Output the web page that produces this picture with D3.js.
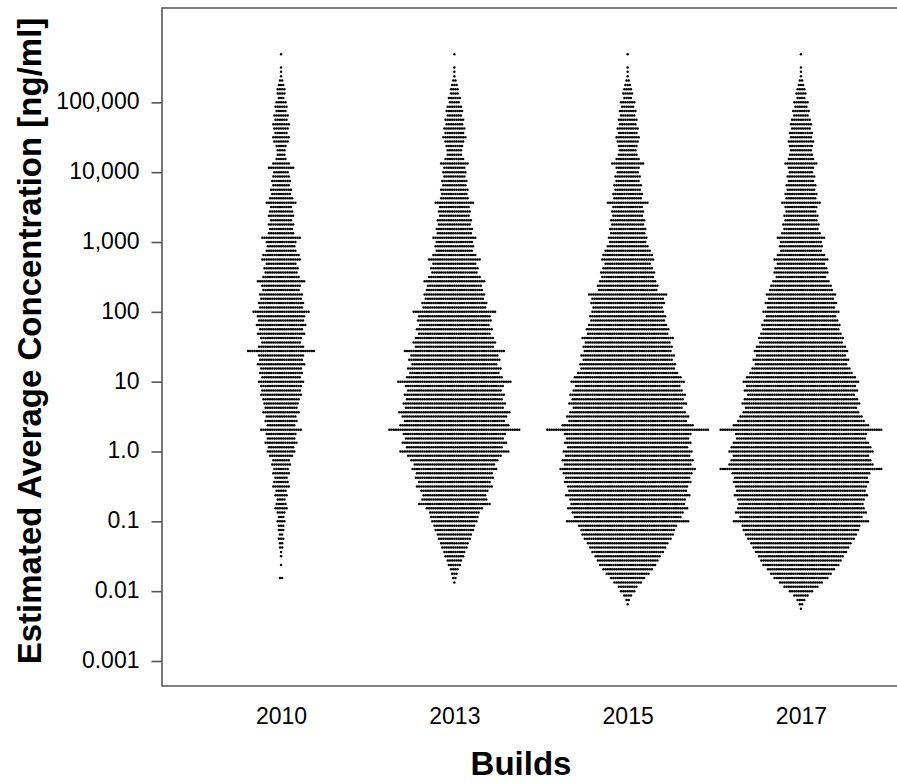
<!DOCTYPE html>
<html>
<head>
<meta charset="utf-8">
<script src="https://cdn.jsdelivr.net/npm/d3@7"></script>
<style>
  body { margin: 0; background: #fff; }
  text { font-family: "Liberation Sans", Arial, Helvetica, sans-serif; fill: #000; }
  .axis-title { font-weight: bold; font-size: 33px; }
  .tick-label { font-size: 23px; }
</style>
</head>
<body>
<div class="chart"></div>
<script>
var svgWidth = 897;
var svgHeight = 783;

// builds on the x axis
var builds = ["2010", "2013", "2015", "2017"];

// y tick values and their printed labels
var yTicks = [1e5, 1e4, 1e3, 100, 10, 1, 0.1, 0.01, 0.001];
var yTickLabels = ["100,000", "10,000", "1,000", "100", "10", "1.0", "0.1", "0.01", "0.001"];

// swarm rows: each row is a log10 bin (top bin log10 = 5.75, 16 bins per decade),
// and the number is how many dots sit in that row
var binTop = 5.75;
var binsPerDecade = 16;

var counts2010 = [0,1,0,0,1,1,1,2,3,4, 4,3,5,6,5,7,6,8,7,6,
  8,7,5,4,4,5,8,12,7,8, 9,8,10,9,11,14,10,11,12,10,
  12,11,12,18,14,13,14,17,18,14, 16,15,17,22,18,17,20,19,21,20,
  26,22,21,23,20,22,19,18,21,31, 21,20,22,19,20,18,21,19,18,19,
  17,16,15,17,14,15,13,19,14,13, 15,12,13,11,8,9,7,8,6,7,
  8,5,6,4,5,6,4,3,4,3, 3,2,3,2,2,1,1,0,1,0, 0,2];

var counts2013 = [0,1,0,0,1,1,1,2,3,4, 4,6,5,7,8,7,9,8,10,9,
  11,9,8,7,7,9,13,10,11,10, 12,11,13,12,13,18,14,15,14,16,
  15,17,16,20,17,18,17,20,24,20, 22,21,24,28,25,26,28,27,30,29,
  38,33,34,32,35,33,36,38,36,46, 40,42,39,43,41,44,52,45,43,46,
  44,47,45,51,48,46,50,60,47,45, 48,44,50,43,40,37,39,35,36,33,
  35,31,29,30,33,26,23,22,21,19, 18,16,15,13,12,10,9,7,6,4,
  3,2,1];

var counts2015 = [0,1,0,0,1,1,1,2,3,4, 5,4,7,6,8,7,9,8,10,9,
  11,10,9,8,9,11,15,11,10,12, 11,13,12,14,13,19,14,15,14,16,
  15,17,16,18,17,19,21,23,24,21, 23,25,24,26,28,27,36,33,34,32,
  33,35,34,36,38,37,42,39,41,40, 43,41,44,43,46,49,52,48,50,53,
  51,54,50,53,56,54,60,74,58,56, 58,55,59,57,60,58,62,59,57,58,
  55,54,57,53,52,55,51,49,56,45, 43,42,40,37,35,33,30,28,26,23,
  20,16,13,9,7,4,2,1];

var counts2017 = [0,1,0,0,1,1,1,2,3,4, 5,4,7,6,8,7,9,10,9,11,
  10,12,11,10,11,12,15,12,11,13, 12,14,13,15,14,18,15,14,16,15,
  17,16,18,22,19,20,19,22,25,22, 24,25,23,26,28,29,32,30,33,31,
  35,32,34,36,35,37,39,38,41,43, 41,44,42,45,47,50,53,50,52,49,
  52,54,51,53,56,58,62,74,60,59, 62,64,66,62,64,66,74,63,61,62,
  60,59,61,58,57,58,60,56,62,54, 53,51,49,46,44,42,39,37,35,31,
  28,25,20,16,11,7,4,2,1];

var swarmCounts = [counts2010, counts2013, counts2015, counts2017];

var margin = { top: 8, left: 162, bottom: 97 };
var plotRight = 920; // frame runs past the picture's right edge
var plotBottom = svgHeight - margin.bottom;

var svg = d3.select(".chart")
  .append("svg")
  .attr("width", svgWidth)
  .attr("height", svgHeight)
  .style("display", "block");

// scales
var yLogScale = d3.scaleLog()
  .domain([Math.pow(10, -3.358), Math.pow(10, 6.351)])
  .range([plotBottom, margin.top]);

var xPointScale = d3.scalePoint()
  .domain(builds)
  .range([margin.left, plotRight])
  .padding(0.687);

// flatten the rows into dots
var dotPitch = 2.2;
var dots = [];
builds.forEach(function(b, gi) {
  swarmCounts[gi].forEach(function(n, k) {
    var value = Math.pow(10, binTop - k / binsPerDecade);
    for (var i = 0; i < n; i++) {
      dots.push({ build: b, value: value, offset: (i - (n - 1) / 2) * dotPitch });
    }
  });
});

// dots
svg.append("g")
  .selectAll("circle")
  .data(dots)
  .enter()
  .append("circle")
  .attr("cx", d => xPointScale(d.build) + d.offset)
  .attr("cy", d => yLogScale(d.value))
  .attr("r", 1.25)
  .attr("fill", "#000");

// frame (left, top, bottom)
svg.append("path")
  .attr("d", `M${plotRight},${margin.top}H${margin.left}V${plotBottom}H${plotRight}`)
  .attr("fill", "none")
  .attr("stroke", "#555")
  .attr("stroke-width", 1.6);

// y axis
var leftAxis = d3.axisLeft(yLogScale)
  .tickValues(yTicks)
  .tickFormat((d, i) => yTickLabels[i])
  .tickSize(10.5)
  .tickPadding(12);

var yAxis = svg.append("g")
  .attr("transform", `translate(${margin.left}, 0)`)
  .call(leftAxis);

yAxis.select(".domain").remove();
yAxis.selectAll(".tick line").attr("stroke", "#555").attr("stroke-width", 1.6);
yAxis.selectAll(".tick text")
  .attr("class", "tick-label")
  .attr("font-family", null)
  .attr("font-size", null)
  .attr("dy", "0.28em");

// x axis labels (no tick marks)
var bottomAxis = d3.axisBottom(xPointScale)
  .tickSize(0)
  .tickPadding(22);

var xAxis = svg.append("g")
  .attr("transform", `translate(0, ${plotBottom})`)
  .call(bottomAxis);

xAxis.select(".domain").remove();
xAxis.selectAll(".tick text")
  .attr("class", "tick-label")
  .attr("font-family", null)
  .attr("font-size", "24px");

// axis titles
svg.append("text")
  .attr("class", "axis-title")
  .attr("x", 521)
  .attr("y", 775)
  .attr("text-anchor", "middle")
  .text("Builds");

svg.append("text")
  .attr("class", "axis-title")
  .attr("transform", "rotate(-90)")
  .attr("x", -341)
  .attr("y", 41)
  .attr("text-anchor", "middle")
  .text("Estimated Average Concentration [ng/ml]");
</script>
</body>
</html>
